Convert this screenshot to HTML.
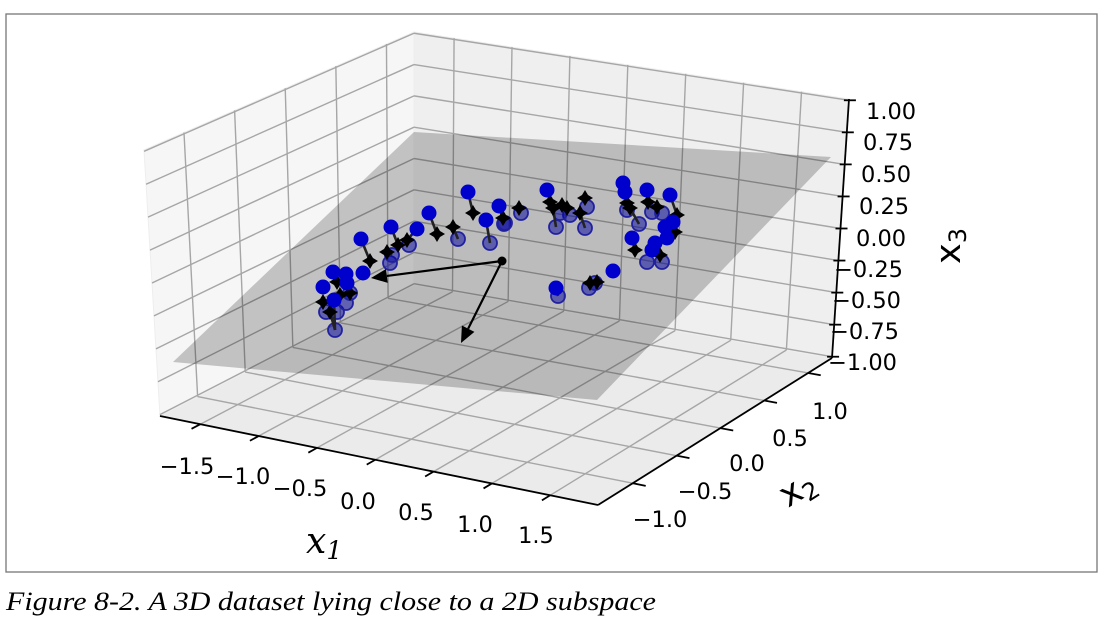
<!DOCTYPE html>
<html><head><meta charset="utf-8"><style>
html,body{margin:0;padding:0;background:#fff;width:1113px;height:624px;overflow:hidden}
svg{display:block}
</style></head><body>
<svg id="s" width="1113" height="624" xmlns="http://www.w3.org/2000/svg" font-family="'DejaVu Sans', 'Liberation Sans', sans-serif">
<rect x="6" y="14" width="1091" height="558" fill="#fff" stroke="#777" stroke-width="1.3"/>
<g id="panes"></g>
<g id="grid" stroke="#a6a6a6" stroke-width="1.4" fill="none"></g>
<g id="faded"></g>
<polygon points="414,132 831,157 597,400 173,362" fill="#000" fill-opacity="0.21"/>
<g id="lines" stroke="#222" stroke-width="2.6"></g>
<g id="cross" fill="#000"></g>
<g id="solid" fill="#0000cc"></g>
<g id="arrows" stroke="#000" stroke-width="2.2" fill="#000"></g>
<g id="axes" stroke="#000" stroke-width="1.8" fill="none"></g>
<g font-size="22.5" fill="#000">
<text x="187" y="474" text-anchor="middle">−1.5</text>
<text x="243" y="484" text-anchor="middle">−1.0</text>
<text x="300" y="496" text-anchor="middle">−0.5</text>
<text x="358" y="509" text-anchor="middle">0.0</text>
<text x="416" y="520" text-anchor="middle">0.5</text>
<text x="475" y="532" text-anchor="middle">1.0</text>
<text x="536" y="543" text-anchor="middle">1.5</text>
<text x="660" y="527" text-anchor="middle">−1.0</text>
<text x="705" y="499" text-anchor="middle">−0.5</text>
<text x="747" y="471" text-anchor="middle">0.0</text>
<text x="790" y="446" text-anchor="middle">0.5</text>
<text x="830" y="419" text-anchor="middle">1.0</text>
<text x="866" y="119">1.00</text>
<text x="863" y="150">0.75</text>
<text x="861" y="182">0.50</text>
<text x="859" y="214">0.25</text>
<text x="856" y="246">0.00</text>
<text x="834" y="277">−0.25</text>
<text x="832" y="308">−0.50</text>
<text x="830" y="339">−0.75</text>
<text x="828" y="370">−1.00</text>
</g>
<text x="306" y="553" font-family="'DejaVu Serif','Liberation Serif',serif" font-style="italic" font-size="36">x<tspan font-size="25" dy="6">1</tspan></text>
<text transform="translate(788,508) rotate(-32)" font-size="35">x<tspan font-size="24" dy="6">2</tspan></text>
<text transform="translate(960,264) rotate(-90)" font-size="35">x<tspan font-size="24" dy="6">3</tspan></text>
<text x="6" y="610" font-family="'Liberation Serif',serif" font-style="italic" font-size="26" textLength="650" lengthAdjust="spacingAndGlyphs">Figure 8-2. A 3D dataset lying close to a 2D subspace</text>
</svg>
<script>
var NS="http://www.w3.org/2000/svg";
var C={"000":[160,416],"100":[598,505],"110":[832,358],"010":[414,285],"001":[144,150],"101":[598,236],"111":[849,99],"011":[414,32]};
function P(u,v,w){var x=0,y=0;for(var a=0;a<2;a++)for(var b=0;b<2;b++)for(var c=0;c<2;c++){var k=(a?u:1-u)*(b?v:1-v)*(c?w:1-w);var p=C[""+a+b+c];x+=k*p[0];y+=k*p[1];}return [x,y];}
function el(g,t,at){var e=document.createElementNS(NS,t);for(var k in at)e.setAttribute(k,at[k]);document.getElementById(g).appendChild(e);return e;}
function poly(g,pts,at){at.points=pts.map(function(p){return p[0].toFixed(1)+","+p[1].toFixed(1)}).join(" ");return el(g,"polygon",at);}
function line(g,a,b,at){at=at||{};at.x1=a[0];at.y1=a[1];at.x2=b[0];at.y2=b[1];return el(g,"line",at);}
poly("panes",[P(0,0,0),P(1,0,0),P(1,1,0),P(0,1,0)],{fill:"#ebebeb",stroke:"#f4f4f4"});
poly("panes",[P(0,0,0),P(0,1,0),P(0,1,1),P(0,0,1)],{fill:"#f6f6f6",stroke:"#eee"});
poly("panes",[P(0,1,0),P(1,1,0),P(1,1,1),P(0,1,1)],{fill:"#efefef",stroke:"#eee"});
var xs=[],ys=[],zs=[];
for(var t=-1.5;t<=1.51;t+=0.5)xs.push((t+1.846)/3.756);
for(var t=-1;t<=1.01;t+=0.5)ys.push((t+1.395)/2.667);
for(var t=-1;t<=1.01;t+=0.25)zs.push((t+1.01)/2.02);
xs.forEach(function(u){line("grid",P(u,0,0),P(u,1,0));line("grid",P(u,1,0),P(u,1,1));});
ys.forEach(function(v){line("grid",P(0,v,0),P(1,v,0));line("grid",P(0,v,0),P(0,v,1));});
zs.forEach(function(w){line("grid",P(0,0,w),P(0,1,w));line("grid",P(0,1,w),P(1,1,w));});
line("axes",P(0,0,0),P(1,0,0));line("axes",P(1,0,0),P(1,1,0));line("axes",P(1,1,0),P(1,1,1));
xs.forEach(function(u){var a=P(u,0,0);var b=P(u,-0.035,0);line("axes",a,b);});
ys.forEach(function(v){var a=P(1,v,0);var b=P(1.03,v,0);line("axes",a,b);});
zs.forEach(function(w){var a=P(1,1,w);line("axes",[a[0]-5,a[1]],[a[0]+7,a[1]]);});
var faded=[[335,330],[326,312],[337,312],[346,303],[350,293],[458,239],[390,263],[392,255],[409,245],[521,213],[504,224],[490,243],[556,227],[570,215],[585,228],[587,207],[560,213],[627,210],[639,224],[652,212],[662,213],[647,262],[662,262],[589,288],[595,283],[558,296],[505,223]];
faded.forEach(function(p){el("faded","circle",{cx:p[0],cy:p[1],r:7,fill:"#0000cc","fill-opacity":0.5,stroke:"#2a2acc","stroke-width":1.8});});
var links=[[[361,239],[370,261]],[[391,227],[398,245]],[[417,229],[407,240]],[[429,213],[437,234]],[[468,192],[473,213]],[[499,206],[503,220]],[[486,220],[490,243]],[[334,300],[335,330]],[[547,190],[553,206]],[[625,192],[627,210]],[[647,190],[650,205]],[[670,195],[677,215]],[[632,238],[635,250]],[[652,250],[660,255]],[[556,288],[558,296]],[[585,228],[580,213]],[[556,227],[553,208]],[[639,224],[630,208]],[[458,239],[453,227]],[[392,255],[387,252]],[[335,330],[330,312]],[[667,238],[675,232]]];
links.forEach(function(l){line("lines",l[0],l[1]);});
var cr=[[370,261],[398,245],[407,240],[437,234],[473,213],[503,218],[330,312],[323,302],[350,293],[337,282],[453,227],[387,252],[519,208],[550,202],[553,208],[562,205],[567,208],[580,213],[585,198],[627,203],[630,208],[648,202],[657,207],[677,215],[675,232],[635,250],[660,255],[590,283],[597,282],[340,295]];
cr.forEach(function(p){var x=p[0],y=p[1];el("cross","polygon",{points:(x)+","+(y-8)+" "+(x+3)+","+(y-3)+" "+(x+8)+","+y+" "+(x+3)+","+(y+3)+" "+x+","+(y+8)+" "+(x-3)+","+(y+3)+" "+(x-8)+","+y+" "+(x-3)+","+(y-3)});});
var solid=[[361,239],[391,227],[417,229],[429,213],[468,192],[499,206],[486,220],[363,273],[333,272],[346,274],[323,287],[347,283],[334,300],[547,190],[623,183],[625,192],[647,190],[670,195],[673,222],[665,227],[667,238],[632,238],[655,243],[652,250],[613,271],[556,288]];
solid.forEach(function(p){el("solid","circle",{cx:p[0],cy:p[1],r:7.5});});
function arrow(a,b){var dx=b[0]-a[0],dy=b[1]-a[1],L=Math.hypot(dx,dy),ux=dx/L,uy=dy/L;var hl=16,hw=7;var bx=b[0]-ux*hl,by=b[1]-uy*hl;line("arrows",a,[bx,by]);el("arrows","polygon",{points:b[0]+","+b[1]+" "+(bx-uy*hw)+","+(by+ux*hw)+" "+(bx+uy*hw)+","+(by-ux*hw),stroke:"none"});}
arrow([502,261],[371,278]);arrow([502,261],[461,343]);
el("arrows","circle",{cx:502,cy:261,r:4.5,stroke:"none"});
</script>
</body></html>
